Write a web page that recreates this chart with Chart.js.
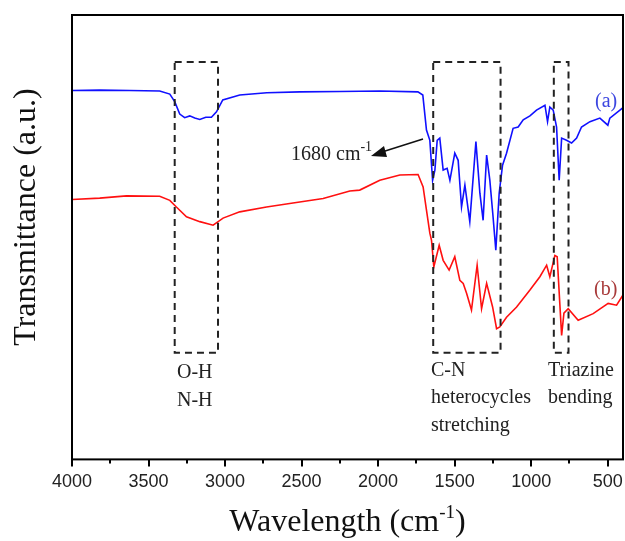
<!DOCTYPE html>
<html>
<head>
<meta charset="utf-8">
<script src="https://cdn.jsdelivr.net/npm/chart.js@4.4.0/dist/chart.umd.min.js"></script>
<style>
    html, body { margin: 0; padding: 0; background: #fff; }
    #wrap { width: 625px; height: 541px; }
</style>
</head>
<body>
<div id="wrap"><canvas id="ftir" width="625" height="541"></canvas></div>
<script>
// wavenumbers (cm-1) y transmitancia (a.u.)
const blueWn = [4000, 3819, 3623, 3427, 3361, 3329, 3296, 3264, 3231, 3198, 3165, 3126, 3089, 3056, 3015, 2904, 2727, 2512, 2250, 1989, 1740,
    1708, 1684, 1662, 1644, 1629, 1614, 1597, 1575, 1549, 1531, 1499, 1477, 1455, 1433, 1401, 1361, 1335, 1314, 1291, 1270, 1250, 1231,
    1209, 1187, 1161, 1118, 1085, 1052, 1008, 965, 910, 893, 878, 856, 834, 817, 801, 769, 736, 703, 671, 616, 551, 499, 486, 420, 402];
const blueT = [83.0, 83.1, 83.0, 82.9, 82.2, 80.5, 77.7, 76.9, 77.3, 76.8, 76.5, 77.0, 77.0, 78.2, 80.9, 82.0, 82.5, 82.7, 82.8, 82.9, 82.7,
    82.0, 74.1, 71.8, 62.8, 65.1, 71.8, 72.3, 65.1, 65.5, 62.8, 68.9, 67.3, 56.8, 61.7, 53.5, 71.5, 59.9, 53.8, 68.5, 62.8, 55.0, 47.1,
    59.9, 66.2, 68.9, 74.5, 74.8, 76.4, 77.3, 78.6, 79.7, 76.0, 79.3, 78.6, 74.8, 62.8, 72.3, 71.8, 71.2, 72.3, 74.8, 76.0, 76.8, 75.2, 76.8, 78.6, 79.1];

const redWn = [4000, 3819, 3644, 3427, 3361, 3318, 3252, 3165, 3078, 3013, 2904, 2729, 2556, 2359, 2185, 2120, 1989, 1858, 1739,
    1706, 1684, 1662, 1651, 1636, 1601, 1575, 1536, 1499, 1466, 1444, 1422, 1390, 1353, 1324, 1291, 1252, 1226, 1205, 1161, 1095,
    1008, 943, 899, 878, 845, 830, 813, 801, 786, 758, 693, 595, 497, 442, 402];
const redT = [58.5, 58.8, 59.3, 59.2, 58.3, 56.8, 54.6, 53.5, 52.7, 54.3, 55.7, 56.8, 57.7, 58.7, 60.4, 60.6, 62.8, 64.0, 64.1,
    61.3, 56.1, 50.9, 49.3, 43.3, 48.2, 44.8, 42.6, 45.6, 40.3, 39.6, 37.4, 33.6, 43.7, 33.9, 39.6, 34.3, 29.4, 29.8, 32.0, 34.3,
    38.1, 41.1, 43.7, 41.1, 45.9, 45.6, 35.1, 27.9, 32.9, 33.9, 31.3, 32.8, 35.1, 34.7, 36.9];

const xTicks = [4000, 3500, 3000, 2500, 2000, 1500, 1000, 500];
const xMinorTicks = [3750, 3250, 2750, 2250, 1750, 1250, 750];

// regiones marcadas con recuadro punteado: [wn desde, wn hasta, T abajo, T arriba]
const boxes = [
    [3329, 3046, 24.0, 89.4],
    [1640, 1200, 24.0, 89.4],
    [852, 756, 24.0, 89.4]
];

const toPoints = (xs, ys) => xs.map((x, i) => ({ x: x, y: ys[i] }));

const serif = '"Liberation Serif", "Times New Roman", serif';

// dibuja marco, ticks, recuadros y textos
const decoPlugin = {
    id: 'deco',
    afterDraw(chart) {
        const ctx = chart.ctx;
        const area = chart.chartArea;
        const xs = chart.scales.x;
        const ys = chart.scales.y;
        ctx.save();

        // marco
        ctx.strokeStyle = '#000';
        ctx.lineWidth = 2;
        ctx.strokeRect(area.left, area.top, area.right - area.left, area.bottom - area.top);

        // ticks hacia afuera
        ctx.lineWidth = 2;
        ctx.beginPath();
        xTicks.forEach(v => {
            const px = Math.round(xs.getPixelForValue(v));
            ctx.moveTo(px, area.bottom);
            ctx.lineTo(px, area.bottom + 7);
        });
        xMinorTicks.forEach(v => {
            const px = Math.round(xs.getPixelForValue(v));
            ctx.moveTo(px, area.bottom);
            ctx.lineTo(px, area.bottom + 4);
        });
        ctx.stroke();

        // recuadros punteados
        ctx.setLineDash([7, 5]);
        ctx.lineWidth = 2;
        ctx.strokeStyle = '#222';
        boxes.forEach(b => {
            const x1 = xs.getPixelForValue(b[0]);
            const x2 = xs.getPixelForValue(b[1]);
            const y1 = ys.getPixelForValue(b[3]);
            const y2 = ys.getPixelForValue(b[2]);
            ctx.strokeRect(x1, y1, x2 - x1, y2 - y1);
        });
        ctx.setLineDash([]);

        // textos de anotacion
        ctx.fillStyle = '#222';
        ctx.font = '20px ' + serif;
        ctx.textAlign = 'left';
        ctx.textBaseline = 'alphabetic';
        ctx.fillText('O-H', 177, 378);
        ctx.fillText('N-H', 177, 406);
        ctx.fillText('C-N', 431, 376);
        ctx.fillText('heterocycles', 431, 403);
        ctx.fillText('stretching', 431, 431);
        ctx.fillText('Triazine', 548, 376);
        ctx.fillText('bending', 548, 403);

        ctx.fillText('1680 cm', 291, 160);
        const w1680 = ctx.measureText('1680 cm').width;
        ctx.font = '14px ' + serif;
        ctx.fillText('-1', 291 + w1680, 151);

        // flecha hacia el pico de 1680
        ctx.strokeStyle = '#111';
        ctx.fillStyle = '#111';
        ctx.lineWidth = 1.5;
        ctx.beginPath();
        ctx.moveTo(423, 139);
        ctx.lineTo(382, 152);
        ctx.stroke();
        ctx.beginPath();
        ctx.moveTo(371, 156);
        ctx.lineTo(384, 146);
        ctx.lineTo(387, 157);
        ctx.closePath();
        ctx.fill();

        // etiquetas de series
        ctx.font = '20px ' + serif;
        ctx.fillStyle = '#3d47e0';
        ctx.fillText('(a)', 595, 107);
        ctx.fillStyle = '#a83a3a';
        ctx.fillText('(b)', 594, 295);

        // titulo eje x con superindice
        ctx.fillStyle = '#111';
        ctx.font = '32px ' + serif;
        const main = 'Wavelength (cm';
        const wMain = ctx.measureText(main).width;
        ctx.font = '19px ' + serif;
        const wSup = ctx.measureText('-1').width;
        ctx.font = '32px ' + serif;
        const wClose = ctx.measureText(')').width;
        const total = wMain + wSup + wClose;
        let tx = (area.left + area.right) / 2 - total / 2;
        ctx.fillText(main, tx, 531);
        ctx.font = '19px ' + serif;
        ctx.fillText('-1', tx + wMain, 518);
        ctx.font = '32px ' + serif;
        ctx.fillText(')', tx + wMain + wSup, 531);

        // titulo eje y
        ctx.translate(35, 217);
        ctx.rotate(-Math.PI / 2);
        ctx.textAlign = 'center';
        ctx.fillText('Transmittance (a.u.)', 0, 0);

        ctx.restore();
    }
};

new Chart(document.getElementById('ftir').getContext('2d'), {
    type: 'line',
    data: {
        datasets: [{
            label: '(a)',
            data: toPoints(blueWn, blueT),
            borderColor: '#1010ff',
            borderWidth: 1.6,
            pointRadius: 0,
            tension: 0,
            fill: false
        }, {
            label: '(b)',
            data: toPoints(redWn, redT),
            borderColor: '#ff1010',
            borderWidth: 1.6,
            pointRadius: 0,
            tension: 0,
            fill: false
        }]
    },
    options: {
        responsive: false,
        animation: false,
        layout: { padding: { left: 72, right: 2, top: 15, bottom: 36 } },
        plugins: {
            legend: { display: false },
            tooltip: { enabled: false }
        },
        scales: {
            x: {
                type: 'linear',
                reverse: true,
                min: 400,
                max: 4000,
                grid: { display: false, drawTicks: false },
                border: { display: false },
                afterBuildTicks: axis => { axis.ticks = xTicks.map(v => ({ value: v })); },
                // sin margen extra a los lados por las etiquetas
                afterFit: axis => { axis.paddingLeft = 0; axis.paddingRight = 0; },
                ticks: {
                    autoSkip: false,
                    maxRotation: 0,
                    padding: 12,
                    color: '#222',
                    font: { family: '"Liberation Sans", Arial, sans-serif', size: 18 },
                    callback: v => String(v)
                }
            },
            y: {
                display: false,
                min: 0,
                max: 100
            }
        }
    },
    plugins: [decoPlugin]
});
</script>
</body>
</html>
